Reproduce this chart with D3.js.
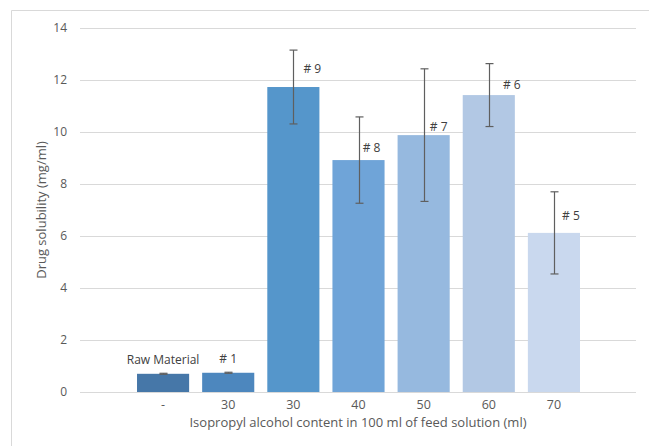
<!DOCTYPE html>
<html>
<head>
<meta charset="utf-8">
<script src="https://cdn.jsdelivr.net/npm/d3@7/dist/d3.min.js"></script>
<style>
  html, body { margin: 0; padding: 0; background: #fff; }
  svg { display: block; }
  text { font-family: "Open Sans", "Liberation Sans", sans-serif; fill: #595959; }
</style>
</head>
<body>
<svg id="chart" width="649" height="446"></svg>
<script>
// Sample batches and their isopropyl alcohol content
const categories = ["Raw Material", "# 1", "# 9", "# 8", "# 7", "# 6", "# 5"];
const tickLabels = ["-", "30", "30", "40", "50", "60", "70"];
// Mean drug solubility (mg/ml) and standard deviation
const solubility = [0.70, 0.74, 11.73, 8.92, 9.88, 11.42, 6.12];
const errors = [0.02, 0.02, 1.42, 1.66, 2.55, 1.21, 1.58];
const yTicks = [0, 2, 4, 6, 8, 10, 12, 14];
const barColors = ["#4677a8", "#4d87be", "#5596cb", "#6fa4d8", "#96b9df", "#b2c8e4", "#c9d8ee"];
// label offsets (px) so text clears the error bar
const labelDx = [0, 0, 19, 13, 15, 23, 17];
const labelDy = [-14, -14, -19, -13, -9, -11, -17];

const svg = d3.select("#chart");

// outer frame (left and top edges)
svg.append("path")
  .attr("d", "M11.5,446V10.5H649")
  .attr("fill", "none").attr("stroke", "#d9d9d9");

const plot = { left: 80, right: 636, top: 28, bottom: 392 };

const y = d3.scaleLinear().domain([0, 14]).range([plot.bottom, plot.top]);
const x = d3.scaleBand().domain(d3.range(categories.length))
  .range([130.5, 586.5]).paddingInner(0.2).paddingOuter(0.1);

// horizontal gridlines
svg.append("g").selectAll("line").data(yTicks).join("line")
  .attr("x1", plot.left).attr("x2", plot.right)
  .attr("y1", d => Math.round(y(d)) + 0.5).attr("y2", d => Math.round(y(d)) + 0.5)
  .attr("stroke", "#d9d9d9").attr("stroke-width", 1);

// y axis labels
const yAxis = d3.axisLeft(y).tickValues(yTicks).tickSize(0).tickPadding(0);
svg.append("g").attr("transform", "translate(67,0)").call(yAxis)
  .call(g => g.select(".domain").remove())
  .selectAll("text").attr("font-size", 12).style("fill", "#595959")
  .style("font-family", "'Open Sans', sans-serif");

// bars
svg.append("g").selectAll("rect").data(solubility).join("rect")
  .attr("x", (d, i) => x(i)).attr("width", x.bandwidth())
  .attr("y", d => y(d)).attr("height", d => y(0) - y(d))
  .attr("fill", (d, i) => barColors[i]);

// error bars
const eb = svg.append("g").attr("stroke", "#5f5f5f").attr("stroke-width", 1.2);
solubility.forEach((v, i) => {
  const cx = Math.round(x(i) + x.bandwidth() / 2) + 0.5;
  const top = y(v + errors[i]), bot = y(v - errors[i]);
  eb.append("line").attr("x1", cx).attr("x2", cx).attr("y1", top).attr("y2", bot);
  eb.append("line").attr("x1", cx - 4).attr("x2", cx + 4).attr("y1", top).attr("y2", top);
  eb.append("line").attr("x1", cx - 4).attr("x2", cx + 4).attr("y1", bot).attr("y2", bot);
});

// data labels
svg.append("g").selectAll("text").data(categories).join("text")
  .attr("x", (d, i) => x(i) + x.bandwidth() / 2 + labelDx[i])
  .attr("y", (d, i) => y(solubility[i]) + labelDy[i])
  .attr("text-anchor", "middle").attr("dominant-baseline", "central")
  .attr("font-size", 12).style("fill", "#404040")
  .text(d => d);

// x axis labels
const xAxis = d3.axisBottom(x).tickFormat(i => tickLabels[i]).tickSize(0).tickPadding(0);
svg.append("g").attr("transform", `translate(0,${plot.bottom})`).call(xAxis)
  .call(g => g.select(".domain").remove())
  .selectAll("text").attr("dy", null).attr("y", 12)
  .attr("dominant-baseline", "central")
  .attr("font-size", 12.5).style("fill", "#595959")
  .style("font-family", "'Open Sans', sans-serif");

// axis titles
svg.append("text")
  .attr("x", 358).attr("y", 422)
  .attr("text-anchor", "middle").attr("dominant-baseline", "central")
  .attr("font-size", 13).text("Isopropyl alcohol content in 100 ml of feed solution (ml)");

svg.append("text")
  .attr("transform", "translate(41,210) rotate(-90)")
  .attr("text-anchor", "middle").attr("dominant-baseline", "central")
  .attr("font-size", 13).text("Drug solubility (mg/ml)");
</script>
</body>
</html>
